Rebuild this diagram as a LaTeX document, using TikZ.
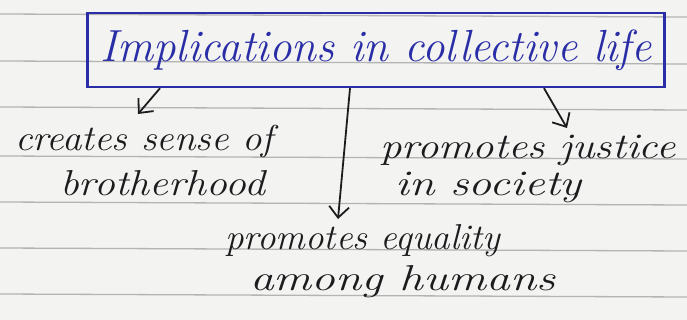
\documentclass[tikz,border=0pt]{standalone}
\usetikzlibrary{arrows.meta}
\definecolor{paper}{HTML}{F3F3F1}
\definecolor{rule}{HTML}{B4B4B4}
\definecolor{ink}{HTML}{1C1C1E}
\definecolor{blueink}{HTML}{2A2EA6}
\newcommand{\hstretch}[2]{\scalebox{#1}[1]{#2}}
\tikzset{
  ruleline/.style={draw=rule, line width=1.3pt},
  titlebox/.style={draw=blueink, line width=2.4pt, text=blueink, minimum width=577pt, minimum height=74pt, inner sep=0pt, font=\fontsize{45}{48}\selectfont\itshape},
  label/.style={text=ink, inner sep=0pt, align=center, font=\fontsize{36}{40}\selectfont\itshape},
  conn/.style={draw=ink, line width=1.8pt, -{Straight Barb[length=11pt,width=20pt,line width=1.8pt]}}
}
\begin{document}
\begin{tikzpicture}[x=1pt,y=-1pt]
\useasboundingbox (0,0) rectangle (687,320);
\fill[paper] (0,0) rectangle (687,320);
\foreach \y in {14,61,107,156,202,248,294} {
  \draw[ruleline] (0,\y) -- (687,\y+3);
}
\node[titlebox] (t) at (376,50) {Implications in collective life};
\node[label, anchor=west] (c1) at (15,142) {\hstretch{1.08}{creates sense of}};
\node[label, anchor=west] (c2) at (60,183) {\hstretch{1.16}{brotherhood}};
\node[label, anchor=west] (j1) at (380,150) {\hstretch{1.19}{promotes justice}};
\node[label, anchor=west] (j2) at (395,187) {\hstretch{1.28}{in society}};
\node[label, anchor=west] (e1) at (225,241) {\hstretch{1.03}{promotes equality}};
\node[label, anchor=west] (e2) at (250,282) {\hstretch{1.32}{among humans}};
\coordinate (tipL) at (138,114);
\coordinate (tipM) at (338,219);
\coordinate (tipR) at (567,128);
\draw[conn] ([xshift=-216pt]t.south) -- (tipL);
\draw[conn] ([xshift=-26pt]t.south) -- (tipM);
\draw[conn] ([xshift=168pt]t.south) -- (tipR);
\end{tikzpicture}
\end{document}
